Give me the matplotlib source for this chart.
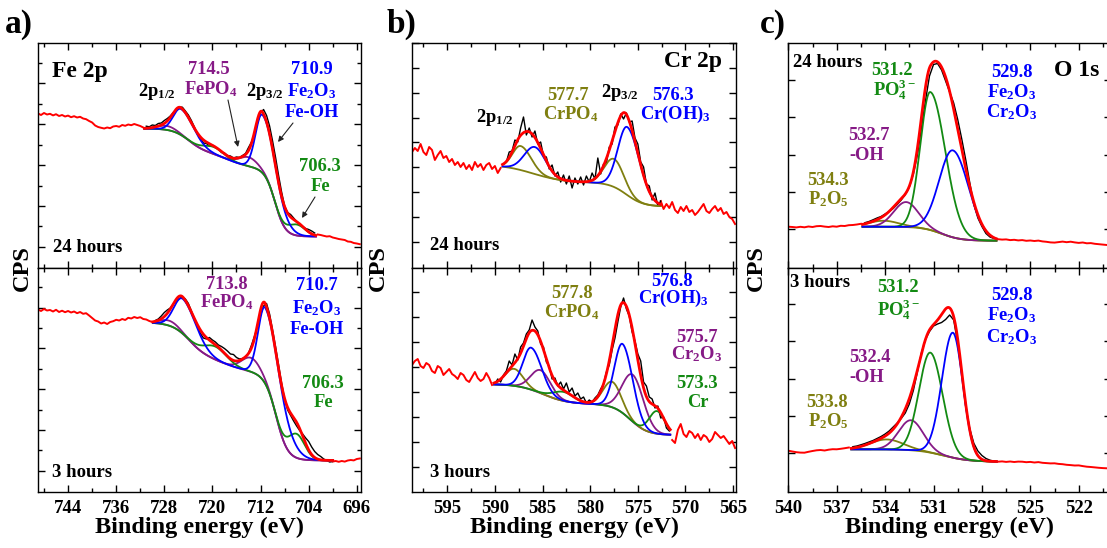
import numpy as np
import matplotlib
matplotlib.use("Agg")
import matplotlib.pyplot as plt
from matplotlib.ticker import MultipleLocator, FixedLocator

plt.rcParams.update({
    "font.family": ["Liberation Serif", "DejaVu Serif"],
    "font.weight": "bold",
    "mathtext.fontset": "custom",
    "mathtext.rm": "Liberation Serif:bold",
    "mathtext.it": "Liberation Serif:bold",
    "mathtext.bf": "Liberation Serif:bold",
    "mathtext.default": "rm",
    "axes.linewidth": 1.0,
})

RED, BLUE, PURPLE, GREEN, OLIVE = "#ff0000", "#0000ff", "#861a86", "#138a13", "#7f7f10"

# ---------------- raw spectra (arbitrary CPS units) -------------
# Fe 2p, energies start 749.0 eV, step -0.5 eV
fe_start, fe_step = 749.0, -0.5
fe_24h_raw = [154.5, 153.0, 155.0, 153.5, 154.2, 152.6, 153.8, 152.0, 153.0, 151.5,
              152.4, 150.8, 151.8, 150.5, 151.2, 149.5, 148.8, 147.0, 145.5, 142.5,
              141.0, 140.2, 139.5, 140.5, 139.8, 141.5, 142.0, 141.2, 143.0, 142.2,
              143.5, 142.8, 144.0, 143.0, 142.0, 140.5, 141.8, 141.2, 143.0, 142.5,
              144.5, 145.0, 147.5, 149.5, 152.0, 155.5, 158.2, 161.0, 160.8, 157.0,
              153.0, 147.5, 141.0, 134.0, 130.0, 125.0, 124.5, 122.0, 123.0, 120.5,
              119.0, 115.5, 115.0, 112.5, 112.0, 110.0, 111.0, 110.5, 112.5, 114.5,
              120.5, 126.0, 135.0, 145.0, 155.0, 158.5, 152.5, 142.0, 127.0, 110.5,
              92.5, 76.0, 62.0, 55.5, 53.5, 50.0, 46.5, 43.5, 41.5, 39.5,
              38.5, 37.0, 35.0, 33.5, 33.0, 32.2, 31.5, 31.8, 30.5, 29.8,
              29.0, 28.5, 28.0, 26.5, 26.2, 25.0, 24.5, 23.8]
fe_3h_raw = [182.5, 181.0, 183.0, 181.5, 182.0, 180.5, 182.2, 180.0, 181.3, 179.8,
             181.0, 179.5, 180.5, 178.8, 180.0, 178.2, 178.8, 176.5, 174.0, 171.5,
             170.5, 168.5, 169.5, 168.0, 170.0, 170.8, 172.2, 171.5, 173.0, 172.0,
             174.2, 173.5, 175.0, 174.0, 174.8, 173.0, 172.5, 171.0, 170.0, 171.5,
             173.0, 176.0, 179.5, 182.0, 184.0, 188.0, 191.0, 193.5, 195.0, 193.0,
             188.5, 181.0, 173.5, 166.5, 158.5, 154.0, 153.0, 154.5, 152.0, 150.0,
             147.0, 145.5, 143.5, 141.0, 138.0, 137.5, 134.5, 133.0, 133.5, 135.0,
             139.0, 147.0, 156.0, 166.0, 177.0, 186.0, 188.5, 178.0, 162.0, 145.0,
             127.0, 109.0, 93.0, 82.0, 76.5, 71.0, 66.0, 61.5, 58.0, 54.0,
             50.5, 45.0, 40.5, 37.5, 35.5, 33.0, 31.5, 30.0, 30.5, 31.0,
             30.2, 31.0, 30.4, 31.5, 32.0, 31.6, 33.0, 33.5]
# Cr 2p, energies start 598.7 eV, step -0.3 eV
cr_start, cr_step = 598.7, -0.3
cr_24h_raw = [116, 120, 117, 124, 116, 113, 121, 118, 108, 113, 117, 110, 112, 106, 109,
              103, 106, 101, 105, 99, 103, 98, 106, 101, 104, 98, 103, 105, 99, 102,
              95, 100, 104, 106, 116, 117, 128, 126, 140, 151, 133, 140, 131, 137, 124,
              126, 112, 111, 99, 103, 92, 96, 86, 93, 84, 92, 80, 90, 84, 91,
              83, 92, 86, 95, 89, 110, 94, 104, 105, 121, 124, 141, 143, 154, 149,
              155, 146, 147, 130, 124, 106, 101, 84, 82, 68, 75, 62, 67, 59, 64,
              60, 66, 58, 55, 61, 57, 62, 56, 58, 53, 56, 60, 64, 57, 55,
              59, 62, 57, 60, 54, 56, 51, 49, 44]
cr_3h_raw = [127, 131, 133, 126, 124, 129, 127, 121, 119, 126, 124, 117, 120, 123, 118,
             116, 113, 119, 117, 112, 110, 115, 120, 114, 111, 113, 119, 114, 107, 108,
             113, 110, 117, 121, 131, 127, 138, 132, 145, 149, 158, 162, 172, 165, 161,
             148, 145, 130, 126, 113, 114, 106, 110, 103, 109, 100, 104, 96, 99, 93,
             95, 89, 92, 90, 94, 97, 103, 108, 120, 127, 142, 154, 170, 185, 194,
             183, 176, 160, 151, 138, 131, 110, 106, 95, 93, 84, 86, 74, 75, 64,
             61, 52, 49, 62, 68, 58, 55, 61, 59, 54, 58, 52, 57, 55, 50,
             53, 60, 57, 54, 56, 52, 48, 51, 44]
# O 1s, energies start 540.0 eV, step -0.25 eV
o_start, o_step = 540.0, -0.25
o_24h_raw = [41.3, 41.0, 40.6, 41.2, 40.7, 41.5, 41.0, 41.8, 42.0, 41.4,
             41.0, 41.7, 41.3, 42.2, 42.0, 42.8, 43.0, 43.5, 44.2, 45.3,
             46.5, 48.2, 50.0, 51.5, 54.0, 56.5, 59.5, 63.5, 68.0, 73.5,
             81.0, 94.0, 113.0, 140.0, 167.0, 192.0, 203.5, 204.5, 198.0, 187.0,
             176.0, 165.0, 148.5, 129.0, 108.0, 85.0, 63.5, 50.0, 41.5, 34.5,
             31.0, 29.5, 28.8, 28.4, 28.6, 27.9, 28.2, 27.6, 27.9, 27.2,
             27.5, 27.0, 27.4, 26.6, 26.2, 25.6, 25.4, 25.9, 26.4, 25.8,
             26.3, 25.6, 25.1, 25.5, 24.7, 24.9, 24.2, 23.8, 23.4, 23.0, 23.3]
o_3h_raw = [41.3, 40.5, 39.8, 39.4, 39.3, 40.2, 41.0, 41.7, 42.0, 41.5,
            42.3, 42.8, 42.7, 43.2, 43.8, 44.5, 45.3, 46.0, 47.2, 48.5,
            50.0, 51.5, 53.5, 55.5, 58.0, 61.0, 65.0, 69.0, 73.5, 79.0,
            88.0, 101.5, 120.0, 139.0, 152.5, 160.5, 166.0, 168.0, 169.5, 172.5,
            177.0, 172.0, 149.0, 118.0, 85.0, 63.0, 48.7, 41.0, 36.5, 33.5,
            31.8, 30.8, 30.3, 30.6, 30.1, 30.5, 30.0, 30.4, 30.3, 29.8,
            30.1, 29.5, 29.9, 29.2, 28.9, 28.6, 28.7, 28.1, 27.8, 27.2,
            26.9, 26.5, 26.6, 25.9, 25.3, 25.0, 24.6, 24.2, 23.9, 23.7, 23.5]

# ---------------- fit ranges (eV, high -> low) ----------------
fe_24h_fit = (731.3, 702.8)
fe_3h_fit = (729.9, 700.0)
cr_24h_fit = (589.2, 572.6)
cr_3h_fit = (590.1, 571.6)
o_24h_fit = (535.4, 527.1)
o_3h_fit = (536.1, 527.1)

# ---------------- fitted components: (centre eV, height, FWHM high-BE side, FWHM low-BE side)
fe_24h_blue = [(711.7, 58, 2.6, 5.5), (725.2, 26, 3.0, 5.0)]
fe_24h_purple = [(714.0, 9, 3.6, 3.6), (727.6, 4, 3.6, 3.6)]
fe_24h_green = [(706.0, 11, 3.4, 3.4), (719.8, 7, 4.0, 4.0)]
fe_3h_blue = [(711.2, 76, 2.7, 6.3), (724.9, 35, 3.4, 5.3)]
fe_3h_purple = [(713.6, 14, 3.6, 3.6), (727.2, 5, 3.6, 3.6)]
fe_3h_green = [(706.0, 24, 3.2, 3.2), (719.5, 13, 4.5, 4.5)]

cr_24h_blue = [(576.1, 68, 2.3, 3.0), (585.8, 27, 2.6, 2.6)]
cr_24h_olive = [(577.5, 28, 2.4, 2.4), (587.3, 24, 2.0, 2.6)]
cr_3h_blue = [(576.6, 69, 2.0, 2.5), (586.2, 42, 2.0, 2.6)]
cr_3h_olive = [(577.7, 25.5, 2.2, 2.2), (588.0, 17, 2.2, 2.2)]
cr_3h_purple = [(575.5, 47, 2.6, 2.6), (585.2, 23, 2.4, 2.4)]
cr_3h_green = [(573.0, 22.6, 1.9, 1.9), (582.8, 9, 2.6, 2.6)]

o_24h_green = [(531.2, 138, 1.45, 2.2)]
o_24h_blue = [(529.8, 87, 2.0, 2.3)]
o_24h_purple = [(532.7, 25, 1.8, 1.8)]
o_24h_olive = [(534.1, 6, 2.2, 2.2)]
o_3h_blue = [(529.8, 125, 1.6, 1.45)]
o_3h_green = [(531.2, 100, 1.65, 1.8)]
o_3h_purple = [(532.4, 30, 1.8, 1.8)]
o_3h_olive = [(533.9, 10, 2.4, 2.4)]

# ---------------- backgrounds: base level and steps (centre eV, height, width eV)
fe_24h_bg = (31.5, [(709.6, 68, 0.85), (724.0, 22, 1.3), (717.5, 18, 2.0)])
fe_3h_bg = (31.5, [(709.4, 86, 0.95), (724.0, 26.5, 1.3), (719.0, 26, 3.0)])
cr_24h_bg = (61.5, [(576.2, 24, 0.9), (586.0, 18, 1.6)])
cr_3h_bg = (57.0, [(575.8, 31, 0.9), (585.0, 20, 1.3)])
o_24h_bg = (27.3, [(530.5, 14, 0.6)])
o_3h_bg = (30.3, [(530.4, 12.4, 0.8)])


def peaks(E, plist):
    out = np.zeros_like(E)
    for c, h, fl, fr in plist:
        f = np.where(E >= c, fl, fr)
        out += h * np.exp(-4 * np.log(2) * ((E - c) / f) ** 2)
    return out


def background(E, spec):
    base, steps = spec
    out = np.full_like(E, base)
    for c, h, w in steps:
        out += h / (1 + np.exp(-(E - c) / w))
    return out


W, H = 1107, 548
fig = plt.figure(figsize=(W / 100, H / 100), dpi=100)


def rect(l, t, r, b):
    return [l / W, 1 - b / H, (r - l) / W, (b - t) / H]


def draw(ax, start, step, raw, fit, bgspec, comps, bgcolor):
    raw = np.asarray(raw, float)
    E = start + step * np.arange(len(raw))
    hi, lo = fit
    inside = (E <= hi + 1e-9) & (E >= lo - 1e-9)
    left = E >= hi - 1e-9
    right = E <= lo + 1e-9
    ax.plot(E[left], raw[left], color=RED, lw=1.4, zorder=2)
    ax.plot(E[right], raw[right], color=RED, lw=1.4, zorder=2)
    ax.plot(E[inside], raw[inside], color="black", lw=1.0, zorder=3)
    Ef = np.linspace(hi, lo, 800)
    bg = background(Ef, bgspec)
    ax.plot(Ef, bg, color=bgcolor, lw=1.3, zorder=4)
    total = bg.copy()
    for i, (plist, col) in enumerate(comps):
        p = peaks(Ef, plist)
        total += p
        ax.plot(Ef, bg + p, color=col, lw=1.3, zorder=5 + i)
    ax.plot(Ef, total, color=RED, lw=2.0, zorder=20)


def style(ax, xlim, xmaj, xmin, ylim, yticks_maj, yticks_min, bottom_labels):
    ax.set_xlim(*xlim)
    ax.set_ylim(*ylim)
    ax.xaxis.set_major_locator(MultipleLocator(xmaj))
    ax.xaxis.set_minor_locator(MultipleLocator(xmin))
    ax.yaxis.set_major_locator(FixedLocator(yticks_maj))
    ax.yaxis.set_minor_locator(FixedLocator(yticks_min))
    ax.tick_params(which="both", direction="in", top=True, right=True, width=1.0)
    ax.tick_params(which="major", length=5)
    ax.tick_params(which="minor", length=3)
    ax.tick_params(axis="y", labelleft=False)
    ax.tick_params(axis="x", labelbottom=bottom_labels, labelsize=13.5, pad=6)
    for lab in ax.get_xticklabels():
        lab.set_fontweight("bold")


cols = [(38, 361), (412, 736), (788.3, 1111)]
rows = [(43, 268), (268, 492)]

# ---- Fe 2p ----
axa1 = fig.add_axes(rect(cols[0][0], rows[0][0], cols[0][1], rows[0][1]))
axa2 = fig.add_axes(rect(cols[0][0], rows[1][0], cols[0][1], rows[1][1]))
draw(axa1, fe_start, fe_step, fe_24h_raw, fe_24h_fit, fe_24h_bg,
     [(fe_24h_purple, PURPLE), (fe_24h_green, GREEN), (fe_24h_blue, BLUE)], PURPLE)
draw(axa2, fe_start, fe_step, fe_3h_raw, fe_3h_fit, fe_3h_bg,
     [(fe_3h_purple, PURPLE), (fe_3h_green, GREEN), (fe_3h_blue, BLUE)], PURPLE)
ya = np.arange(21.3, 225, 40.8)
style(axa1, (749.0, 695.3), 8, 4, (0, 225), ya, ya + 20.4, False)
style(axa2, (749.0, 695.3), 8, 4, (0, 224), ya, ya + 20.4, True)

# ---- Cr 2p ----
axb1 = fig.add_axes(rect(cols[1][0], rows[0][0], cols[1][1], rows[0][1]))
axb2 = fig.add_axes(rect(cols[1][0], rows[1][0], cols[1][1], rows[1][1]))
draw(axb1, cr_start, cr_step, cr_24h_raw, cr_24h_fit, cr_24h_bg,
     [(cr_24h_olive, OLIVE), (cr_24h_blue, BLUE)], OLIVE)
draw(axb2, cr_start, cr_step, cr_3h_raw, cr_3h_fit, cr_3h_bg,
     [(cr_3h_olive, OLIVE), (cr_3h_purple, PURPLE), (cr_3h_green, GREEN), (cr_3h_blue, BLUE)], PURPLE)
yb = np.arange(26.3, 225, 24.8)
style(axb1, (598.7, 564.7), 5, 2.5, (0, 225), yb, [], False)
style(axb2, (598.7, 564.7), 5, 2.5, (0, 224), np.arange(25.3, 224, 25.0), [], True)

# ---- O 1s ----
axc1 = fig.add_axes(rect(cols[2][0], rows[0][0], cols[2][1], rows[0][1]))
axc2 = fig.add_axes(rect(cols[2][0], rows[1][0], cols[2][1], rows[1][1]))
draw(axc1, o_start, o_step, o_24h_raw, o_24h_fit, o_24h_bg,
     [(o_24h_olive, OLIVE), (o_24h_purple, PURPLE), (o_24h_green, GREEN), (o_24h_blue, BLUE)], OLIVE)
draw(axc2, o_start, o_step, o_3h_raw, o_3h_fit, o_3h_bg,
     [(o_3h_olive, OLIVE), (o_3h_purple, PURPLE), (o_3h_green, GREEN), (o_3h_blue, BLUE)], OLIVE)
yc = np.arange(38.7, 225, 37.3)
style(axc1, (540, 520), 3, 1.5, (0, 225), yc, [], False)
style(axc2, (540, 520), 3, 1.5, (0, 224), yc, [], True)


# ---------------- text ----------------
FS = 13.3


def t(x, y, s, color="black", size=FS, ha="center"):
    fig.text(x / W, 1 - y / H, s, color=color, fontsize=size, ha=ha, va="baseline",
             fontweight="bold", zorder=30)


def arrow(x1, y1, x2, y2):
    axa1.annotate("", xy=(x2 / W, 1 - y2 / H), xytext=(x1 / W, 1 - y1 / H),
                  xycoords="figure fraction", textcoords="figure fraction",
                  annotation_clip=False, zorder=30,
                  arrowprops=dict(arrowstyle="-|>", color="#222222", lw=0.8,
                                  mutation_scale=8, shrinkA=0, shrinkB=0))


for x, s in [(5, "a)"), (387, "b)"), (760, "c)")]:
    t(x, 33, s, size=24, ha="left")
for xc in [199.5, 574, 949.6]:
    t(xc, 533, "Binding energy (eV)", size=17.5)
for xc in [22, 378, 756]:
    fig.text(xc / W, 1 - 268 / H, "CPS", rotation=90, fontsize=17.5, fontweight="bold",
             ha="center", va="center")

# Fe 2p labels
t(52, 77, "Fe 2p", size=17, ha="left")
t(157, 96, "2p$_{1/2}$")
t(209, 74, "714.5", PURPLE)
t(211, 94, "FePO$_4$", PURPLE)
t(265, 96, "2p$_{3/2}$")
t(312, 74, "710.9", BLUE)
t(312, 96, "Fe$_2$O$_3$", BLUE)
t(312, 117, "Fe-OH", BLUE)
t(320, 171, "706.3", GREEN)
t(320, 191, "Fe", GREEN)
t(53, 252, "24 hours", size=13.5, ha="left")
arrow(228, 100, 238, 147)
arrow(293, 123, 278, 142)
arrow(315, 197, 302, 218)
t(227, 289, "713.8", PURPLE)
t(227, 307, "FePO$_4$", PURPLE)
t(317, 290, "710.7", BLUE)
t(317, 313, "Fe$_2$O$_3$", BLUE)
t(317, 334, "Fe-OH", BLUE)
t(323, 388, "706.3", GREEN)
t(323, 407, "Fe", GREEN)
t(52, 477, "3 hours", size=13.5, ha="left")
arrow(237, 310, 242, 345)
arrow(293, 352, 283, 360)
arrow(315, 410, 305, 430)

# Cr 2p labels
t(722, 67, "Cr 2p", size=17, ha="right")
t(495, 122, "2p$_{1/2}$")
t(568, 100, "577.7", OLIVE)
t(571, 119, "CrPO$_4$", OLIVE)
t(620, 97, "2p$_{3/2}$")
t(673, 100, "576.3", BLUE)
t(675, 119, "Cr(OH)$_3$", BLUE)
t(430, 250, "24 hours", size=13.5, ha="left")
arrow(583, 137, 592, 153)
arrow(663, 130, 640, 143)
t(572, 298, "577.8", OLIVE)
t(572, 317, "CrPO$_4$", OLIVE)
t(672, 286, "576.8", BLUE)
t(673, 303, "Cr(OH)$_3$", BLUE)
t(697, 342, "575.7", PURPLE)
t(697, 359, "Cr$_2$O$_3$", PURPLE)
t(697, 388, "573.3", GREEN)
t(698, 407, "Cr", GREEN)
t(430, 477, "3 hours", size=13.5, ha="left")
arrow(583, 323, 597, 377)
arrow(653, 313, 640, 332)
arrow(670, 365, 648, 377)
arrow(685, 407, 668, 418)

# O 1s labels
t(793, 67, "24 hours", size=13.5, ha="left")
t(1099, 76, "O 1s", size=17, ha="right")
t(892, 75, "531.2", GREEN)
t(895, 96, "PO$_4^{3-}$", GREEN)
t(1012, 77, "529.8", BLUE)
t(1012, 97, "Fe$_2$O$_3$", BLUE)
t(1012, 117, "Cr$_2$O$_3$", BLUE)
t(869, 140, "532.7", PURPLE)
t(867, 160, "-OH", PURPLE)
t(828, 185, "534.3", OLIVE)
t(828, 204, "P$_2$O$_5$", OLIVE)
arrow(898, 104, 915, 128)
arrow(978, 110, 965, 135)
arrow(875, 165, 893, 193)
arrow(850, 202, 872, 215)
t(790, 287, "3 hours", size=13.5, ha="left")
t(898, 292, "531.2", GREEN)
t(899, 316, "PO$_4^{3-}$", GREEN)
t(1012, 300, "529.8", BLUE)
t(1012, 320, "Fe$_2$O$_3$", BLUE)
t(1012, 342, "Cr$_2$O$_3$", BLUE)
t(870, 362, "532.4", PURPLE)
t(867, 382, "-OH", PURPLE)
t(827, 407, "533.8", OLIVE)
t(828, 426, "P$_2$O$_5$", OLIVE)
arrow(898, 328, 915, 350)
arrow(985, 340, 967, 355)
arrow(873, 386, 893, 415)
arrow(850, 428, 872, 437)

fig.savefig("out.png", dpi=100)
